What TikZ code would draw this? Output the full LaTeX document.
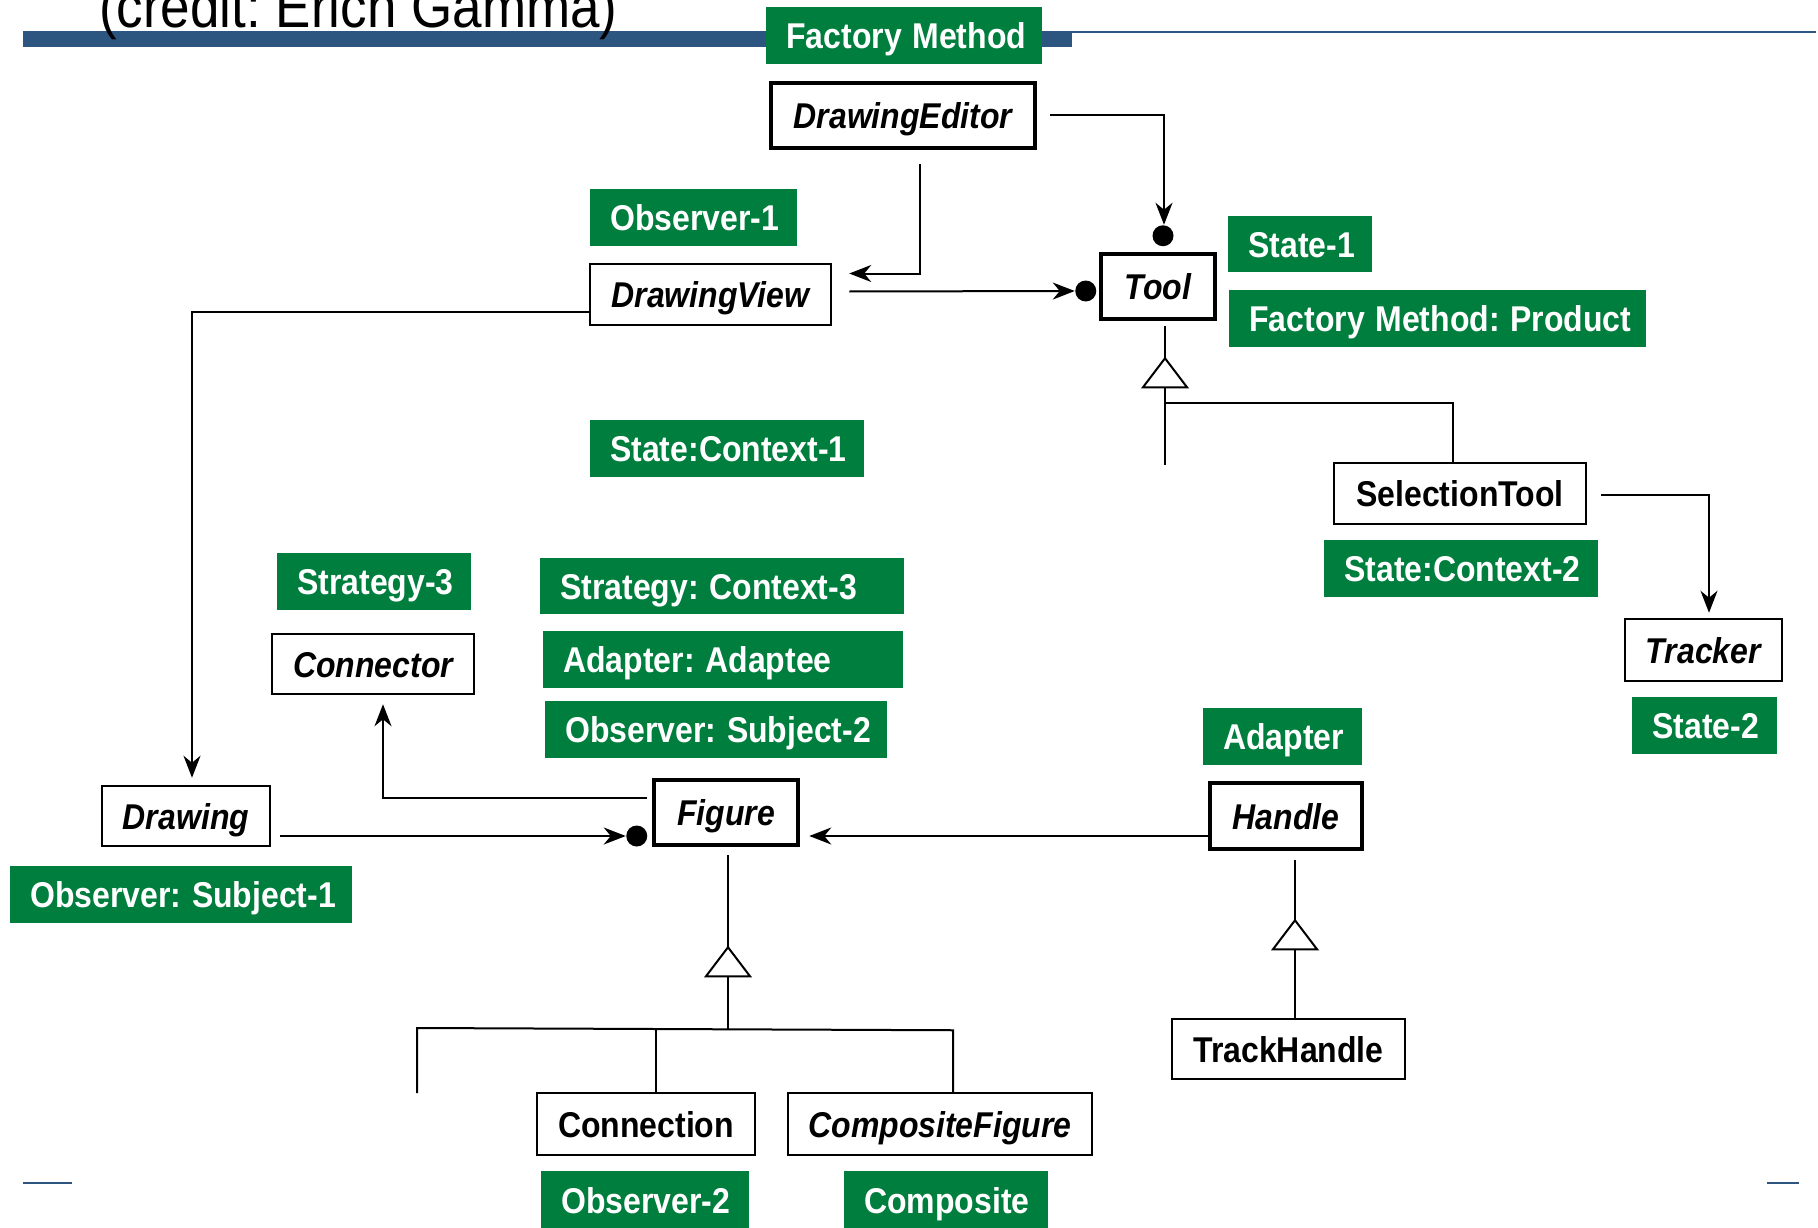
\documentclass[tikz,border=0pt]{standalone}
\usepackage{fontspec}
\setmainfont{Liberation Sans}
\usetikzlibrary{arrows.meta,calc}
\definecolor{gr}{RGB}{0,126,62}
\definecolor{bl}{RGB}{44,85,128}
\frenchspacing
\newcommand\vs[1]{\scalebox{1}[1.12]{#1}}
\newcommand\glab[6]{%
  \pgfmathsetmacro\gw{#4-#2}\pgfmathsetmacro\gh{#5-#3}\pgfmathsetmacro\gtw{#4-#2-40}%
  \node[gl,minimum width=\gw pt,minimum height=\gh pt,text width=\gtw pt] (#1) at (#2,#3) {\vs{#6}};}
\tikzset{bigtip/.tip={Stealth[length=22pt,width=17pt,inset=7pt]}}
\begin{document}
\begin{tikzpicture}[x=1pt,y=-1pt,
  gl/.style={fill=gr,text=white,inner xsep=20pt,inner ysep=0pt,anchor=north west,align=left,
    text height=26pt,text depth=0pt,
    font=\fontsize{32}{36}\selectfont\bfseries},
  cls/.style={draw=black,fill=white,line width=2.5pt,inner sep=0pt,text height=26pt,text depth=0pt,
    font=\fontsize{32}{36}\selectfont\bfseries},
  abs/.style={cls,font=\fontsize{32}{36}\selectfont\bfseries\itshape},
  thk/.style={line width=4.5pt},
  conn/.style={line width=2pt,arrows={-bigtip}},
  ln/.style={line width=2pt},
  tri/.style={line width=2pt,fill=white,line join=miter}]
\useasboundingbox (0,0) rectangle (1818,1228);
\clip (0,0) rectangle (1818,1228);
% header
\fill[bl] (23,31) rectangle (1072,47);
\draw[bl,line width=2pt] (1072,32) -- (1816,32);
\node[anchor=base west,font=\fontsize{53}{60}\selectfont,inner sep=0pt] (title) at (99,28) {\vs{(credit: Erich Gamma)}};
% footer
\draw[bl,line width=2pt] (23,1183) -- (72,1183);
\draw[bl,line width=2pt] (1767,1183) -- (1799,1183);
% class boxes
\node[abs,thk,minimum width=264pt,minimum height=65pt] (de) at (903,115.5) {\vs{DrawingEditor}};
\node[abs,minimum width=241pt,minimum height=61pt] (dv) at (710.5,294.5) {\vs{DrawingView}};
\node[abs,thk,minimum width=114pt,minimum height=65pt] (tool) at (1158,286.5) {\vs{Tool}};
\node[cls,minimum width=252pt,minimum height=61pt] (st) at (1460,493.5) {\vs{SelectionTool}};
\node[abs,minimum width=157pt,minimum height=62pt] (tracker) at (1703.5,650) {\vs{Tracker}};
\node[abs,minimum width=202pt,minimum height=60pt] (connector) at (373,664) {\vs{Connector}};
\node[abs,minimum width=168pt,minimum height=60pt] (drawing) at (186,816) {\vs{Drawing}};
\node[abs,thk,minimum width=144pt,minimum height=65pt] (fig) at (726,812.5) {\vs{Figure}};
\node[abs,thk,minimum width=152pt,minimum height=66pt] (handle) at (1286,816) {\vs{Handle}};
\node[cls,minimum width=233pt,minimum height=60pt] (th) at (1288.5,1049) {\vs{TrackHandle}};
\node[cls,minimum width=218pt,minimum height=62pt] (connection) at (646,1124) {\vs{Connection}};
\node[abs,minimum width=304pt,minimum height=62pt] (cf) at (940,1124) {\vs{CompositeFigure}};
% green labels
\glab{fm}{766}{7}{1042}{64}{Factory Method}
\glab{ob1}{590}{189}{797}{246}{Observer-1}
\glab{s1}{1228}{216}{1372}{272}{State-1}
\glab{fmp}{1229}{290}{1646}{347}{Factory Method: Product}
\glab{sc1}{590}{420}{864}{477}{State:Context-1}
\glab{s3}{277}{553}{471}{610}{Strategy-3}
\glab{sc3}{540}{558}{904}{614}{Strategy: Context-3}
\glab{aa}{543}{631}{903}{688}{Adapter: Adaptee}
\glab{os2}{545}{701}{887}{758}{Observer: Subject-2}
\glab{sc2}{1324}{540}{1598}{597}{State:Context-2}
\glab{s2}{1632}{697}{1777}{754}{State-2}
\glab{ad}{1203}{708}{1362}{765}{Adapter}
\glab{os1}{10}{866}{352}{923}{Observer: Subject-1}
\glab{ob2}{541}{1171}{749}{1230}{Observer-2}
\glab{comp}{844}{1171}{1048}{1230}{Composite}
% associations
\draw[conn] ($(de.east)+(13,0)$) -| ($(tool.north)+(6,-27)$);
\fill ($(tool.north)+(5,-16)$) circle [radius=10.5pt];
\draw[conn] ($(de.south)+(17,14)$) |- ($(dv.east)+(17,-21)$);
\draw[conn] ($(dv.east)+(17,-3)$) -- ($(tool.west)+(-24,4.5)$);
\fill ($(tool.west)+(-13,4.5)$) circle [radius=10.5pt];
\draw[conn] ($(dv.west)+(0,17.5)$) -| ($(drawing.north)+(6,-7)$);
\draw[conn] ($(st.east)+(14,1.5)$) -| ($(tracker.north)+(5.5,-5)$);
\draw[conn] ($(fig.west)+(-5,-14.5)$) -| ($(connector.south)+(10,9)$);
\draw[conn] ($(drawing.east)+(9,20)$) -- ($(fig.west)+(-26,23.5)$);
\fill ($(fig.west)+(-15,23.5)$) circle [radius=10.5pt];
\draw[conn] ($(handle.west)+(0,20)$) -- ($(fig.east)+(9,23.5)$);
% Tool inheritance
\coordinate (ta) at ($(tool.south)+(7,37)$);
\coordinate (tb) at ($(ta)+(0,29)$);
\coordinate (tfree) at ($(tb)+(0,78)$);
\draw[ln] ($(tool.south)+(7,5)$) -- (ta);
\draw[tri] (ta) -- ++(-22,29) -- ++(44,0) -- cycle;
\draw[ln] (tb) -- (tfree);
\draw[ln] ($(tb)+(0,16)$) -| ($(st.north)+(-7,0)$);
% Figure inheritance
\coordinate (fa) at ($(fig.south)+(2,100)$);
\coordinate (fb) at ($(fa)+(0,29)$);
\coordinate (fbar) at ($(fb)+(0,54)$);
\coordinate (ffreetop) at (417,1028);
\coordinate (ffree) at (417,1093);
\draw[ln] ($(fig.south)+(2,8)$) -- (fa);
\draw[tri] (fa) -- ++(-22,29) -- ++(44,0) -- cycle;
\draw[ln] (fb) -- (fbar);
\draw[ln] (ffree) -- (ffreetop) -- ($(fbar -| cf.north)+(13,0)$) -- ($(cf.north)+(13,0)$);
\draw[ln] ($(fbar -| connection.north)+(10,0)$) -- ($(connection.north)+(10,0)$);
% Handle inheritance
\coordinate (ha) at ($(handle.south)+(9,69)$);
\coordinate (hb) at ($(ha)+(0,29)$);
\draw[ln] ($(handle.south)+(9,9)$) -- (ha);
\draw[tri] (ha) -- ++(-22,29) -- ++(44,0) -- cycle;
\draw[ln] (hb) -- (hb |- th.north);
\end{tikzpicture}
\end{document}
